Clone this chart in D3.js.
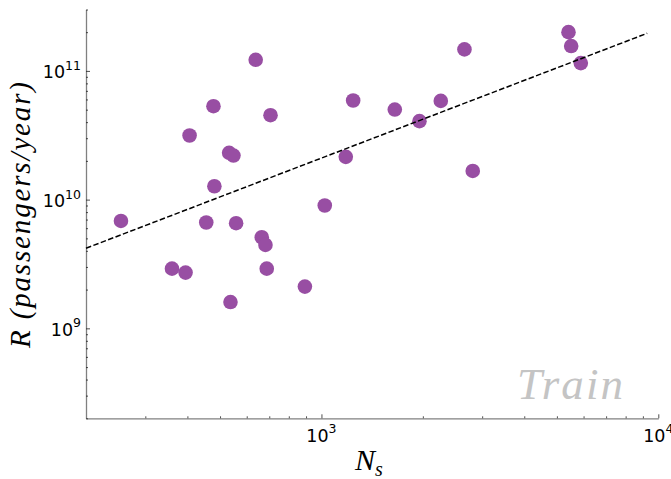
<!DOCTYPE html>
<html><head><meta charset="utf-8">
<script src="https://cdn.jsdelivr.net/npm/d3@7"></script>
<style>body{margin:0;background:#fff} svg{display:block}</style>
</head><body>
<svg id="c" width="671" height="479"></svg>
<script>
// ---- data ----
const stationsNs = [254, 360, 395, 406, 455, 478, 481, 532, 548, 537, 558, 638, 665, 682, 688, 706,
                    893, 1023, 1181, 1242, 1651, 1954, 2261, 2658, 2813, 5412, 5513, 5888];
const ridership  = [6.83e9, 2.91e9, 2.71e9, 3.15e10, 6.64e9, 5.32e10, 1.27e10, 2.31e10, 2.20e10, 1.60e9, 6.56e9, 1.22e11, 5.10e9, 4.45e9, 2.91e9, 4.53e10,
                    2.11e9, 9.0e9, 2.15e10, 5.89e10, 5.01e10, 4.07e10, 5.85e10, 1.47e11, 1.67e10, 2.0e11, 1.56e11, 1.15e11];
const fitNs = [200, 9270];
const fitR  = [4.19e9, 1.96e11];
const xMajorTicks = [1e3, 1e4];
const xMajorLabels = [["10","3"],["10","4"]];
const yMajorTicks = [1e9, 1e10, 1e11];
const yMajorLabels = [["10","9"],["10","10"],["10","11"]];
const xDomain = [200, 1e4];
const yDomain = [2e8, 3e11];
const xLabel = ["N", "s"];
const yLabel = "R (passengers/year)";
const tagText = "Train";

// ---- layout ----
const L = 86, R = 658.3, T = 9.5, B = 418.3;
const svg = d3.select("#c");
const x = d3.scaleLog().domain(xDomain).range([L, R]);
const y = d3.scaleLog().domain(yDomain).range([B, T]);

function minorTicks(dom) {
  const out = [];
  const lo = Math.floor(Math.log10(dom[0])), hi = Math.ceil(Math.log10(dom[1]));
  for (let e = lo; e <= hi; e++) for (let m = 1; m <= 9; m++) {
    const v = m * Math.pow(10, e);
    if (v >= dom[0] * 0.9999 && v <= dom[1] * 1.0001) out.push(v);
  }
  return out;
}
const isMajor = v => Math.abs(Math.log10(v) - Math.round(Math.log10(v))) < 1e-9;

// x axis
const gx = svg.append("g").attr("transform", `translate(0,${B})`)
  .call(d3.axisBottom(x).tickValues(minorTicks(xDomain)).tickFormat("").tickSizeInner(-4).tickSizeOuter(0));
gx.select(".domain").attr("stroke", "#808080").attr("stroke-width", 1.3);
gx.selectAll(".tick line").attr("stroke", "#222").attr("stroke-width", 0.8)
  .attr("y2", d => isMajor(d) ? -4 : -2);

// y axis
const gy = svg.append("g").attr("transform", `translate(${L},0)`)
  .call(d3.axisLeft(y).tickValues(minorTicks(yDomain)).tickFormat("").tickSizeInner(-4).tickSizeOuter(0));
gy.select(".domain").attr("stroke", "#808080").attr("stroke-width", 1.3);
gy.selectAll(".tick line").attr("stroke", "#222").attr("stroke-width", 0.8)
  .attr("x2", d => isMajor(d) ? 4 : 2);

// tick labels
const tickFont = "'DejaVu Sans', sans-serif";
xMajorTicks.forEach((v, i) => {
  const t = svg.append("text").attr("x", x(v)).attr("y", 441.7).attr("text-anchor", "middle")
    .attr("font-family", tickFont).attr("font-size", 17.5).attr("fill", "#000");
  t.append("tspan").text(xMajorLabels[i][0]);
  t.append("tspan").attr("dy", -8.4).attr("font-size", 12.5).text(xMajorLabels[i][1]);
});
yMajorTicks.forEach((v, i) => {
  const t = svg.append("text").attr("x", 81).attr("y", y(v) + 7.3).attr("text-anchor", "end")
    .attr("font-family", tickFont).attr("font-size", 17.5).attr("fill", "#000");
  t.append("tspan").text(yMajorLabels[i][0]);
  t.append("tspan").attr("dy", -8.4).attr("font-size", 12.5).text(yMajorLabels[i][1]);
});

// points
svg.append("g").selectAll("circle").data(stationsNs.map((n, i) => [n, ridership[i]]))
  .join("circle").attr("cx", d => x(d[0])).attr("cy", d => y(d[1])).attr("r", 7.3)
  .attr("fill", "#984ea3");

// fit line
svg.append("path").datum(fitNs.map((n, i) => [n, fitR[i]]))
  .attr("d", d3.line().x(d => x(d[0])).y(d => y(d[1])))
  .attr("fill", "none").attr("stroke", "#000").attr("stroke-width", 1.5)
  .attr("stroke-dasharray", "5.5,2.4");

// axis labels
const serif = "'Liberation Serif', 'DejaVu Serif', serif";
const xl = svg.append("text").attr("x", 355).attr("y", 470)
  .attr("font-family", serif).attr("font-style", "italic").attr("font-size", 30).attr("fill", "#000");
xl.append("tspan").text(xLabel[0]);
xl.append("tspan").attr("dy", 6).attr("font-size", 20).text(xLabel[1]);

svg.append("text").attr("transform", "translate(30,215) rotate(-90)")
  .attr("text-anchor", "middle").attr("font-family", serif).attr("font-style", "italic")
  .attr("font-size", 29).attr("fill", "#000")
  .attr("textLength", 266).attr("lengthAdjust", "spacing").text(yLabel);

// tag
svg.append("text").attr("x", 517).attr("y", 399).attr("font-family", serif).attr("font-style", "italic")
  .attr("font-size", 45).attr("fill", "#c4c4c4").attr("textLength", 106).attr("lengthAdjust", "spacing")
  .text(tagText);
</script>
</body></html>
